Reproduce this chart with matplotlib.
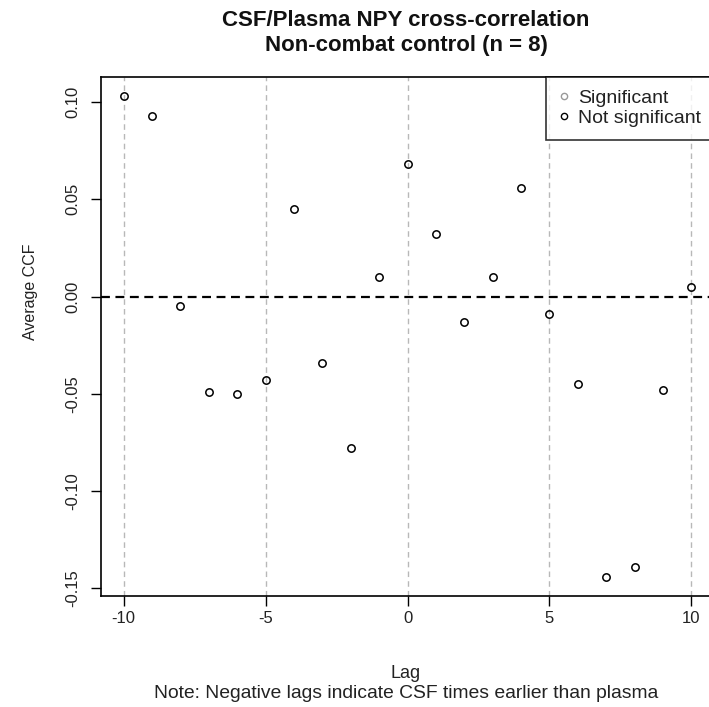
import matplotlib
matplotlib.use('Agg')
import matplotlib.pyplot as plt
from matplotlib.lines import Line2D

# ---- data ----
lags = [-10, -9, -8, -7, -6, -5, -4, -3, -2, -1, 0, 1, 2, 3, 4, 5, 6, 7, 8, 9, 10]
avg_ccf = [0.103, 0.093, -0.005, -0.049, -0.050, -0.043, 0.045, -0.034, -0.078, 0.010,
           0.068, 0.032, -0.013, 0.010, 0.056, -0.009, -0.045, -0.144, -0.139, -0.048, 0.005]
significant = [False, False, False, False, False, False, False, False, False, False,
               False, False, False, False, False, False, False, False, False, False, False]
x_ticks = [-10, -5, 0, 5, 10]
y_ticks = [-0.15, -0.10, -0.05, 0.00, 0.05, 0.10]
y_tick_labels = ['-0.15', '-0.10', '-0.05', '0.00', '0.05', '0.10']
title_line1 = 'CSF/Plasma NPY cross-correlation'
title_line2 = 'Non-combat control (n = 8)'
x_label = 'Lag'
note = 'Note: Negative lags indicate CSF times earlier than plasma'
y_label = 'Average CCF'
legend_labels = ['Significant', 'Not significant']

plt.rcParams['font.family'] = ['Liberation Sans', 'DejaVu Sans']
plt.rcParams['axes.unicode_minus'] = False

W, H = 709, 707
fig = plt.figure(figsize=(W / 100, H / 100), dpi=100)
left, right, top, bottom = 101, 714, 77, 596
ax = fig.add_axes([left / W, (H - bottom) / H, (right - left) / W, (bottom - top) / H])

# R-style 4% padding
xmin, xmax = min(lags), max(lags)
ymin, ymax = min(avg_ccf), max(avg_ccf)
xp = 0.04 * (xmax - xmin)
yp = 0.04 * (ymax - ymin)
ax.set_xlim(xmin - xp, xmax + xp)
ax.set_ylim(ymin - yp, ymax + yp)

# grid lines
for xt in x_ticks:
    ax.axvline(xt, color='#b8b8b8', linestyle=(0, (4, 3)), linewidth=1.0, zorder=1)
ax.axhline(0, color='black', linestyle=(0, (4, 2.5)), linewidth=1.6, zorder=2)

sig_x = [l for l, s in zip(lags, significant) if s]
sig_y = [v for v, s in zip(avg_ccf, significant) if s]
ns_x = [l for l, s in zip(lags, significant) if not s]
ns_y = [v for v, s in zip(avg_ccf, significant) if not s]
ax.plot(sig_x, sig_y, linestyle='none', marker='o', markersize=5.3, markerfacecolor='none',
        markeredgecolor='#999999', markeredgewidth=1.1, zorder=3)
ax.plot(ns_x, ns_y, linestyle='none', marker='o', markersize=5.3, markerfacecolor='none',
        markeredgecolor='black', markeredgewidth=1.1, zorder=3)

ax.set_xticks(x_ticks)
ax.set_xticklabels([str(t) for t in x_ticks])
ax.set_yticks(y_ticks)
ax.set_yticklabels(y_tick_labels, rotation=90, va='center')
ax.tick_params(axis='both', direction='out', length=7, width=1, labelsize=12.0,
               colors='black', labelcolor='#222222')
ax.tick_params(axis='x', pad=4)
ax.tick_params(axis='y', pad=8)

for s in ['top', 'left', 'bottom']:
    ax.spines[s].set_linewidth(1.2)
    ax.spines[s].set_color('black')
ax.spines['right'].set_visible(False)

# axis labels
ax.set_ylabel(y_label, fontsize=11.5, color='#222222')
ax.yaxis.set_label_coords((38 - left) / (right - left), (bottom - 292) / (bottom - top))
fig.text(406 / W, 1 - 674 / H, x_label, ha='center', va='center', fontsize=13.0, color='#222222')
fig.text(406 / W, 1 - 693 / H, note, ha='center', va='center', fontsize=13.9, color='#222222')

# titles
fig.text(406 / W, 1 - 20 / H, title_line1, ha='center', va='center', fontsize=16.0,
         fontweight='bold', color='#111111')
fig.text(406 / W, 1 - 46 / H, title_line2, ha='center', va='center', fontsize=16.0,
         fontweight='bold', color='#111111')

# legend
handles = [Line2D([], [], linestyle='none', marker='o', markersize=4.5, markerfacecolor='none',
                  markeredgecolor='#999999', markeredgewidth=1.0),
           Line2D([], [], linestyle='none', marker='o', markersize=4.5, markerfacecolor='none',
                  markeredgecolor='black', markeredgewidth=1.0)]
leg = ax.legend(handles, legend_labels, loc='upper right', bbox_to_anchor=(1, 1),
                borderaxespad=0, fancybox=False, frameon=True, edgecolor='black',
                fontsize=14.0, handlelength=0.5, handletextpad=0.5, borderpad=0.65,
                labelspacing=0.12)
leg.get_frame().set_linewidth(1.2)
for t in leg.get_texts():
    t.set_color('#222222')

fig.savefig('out.png', dpi=100)
